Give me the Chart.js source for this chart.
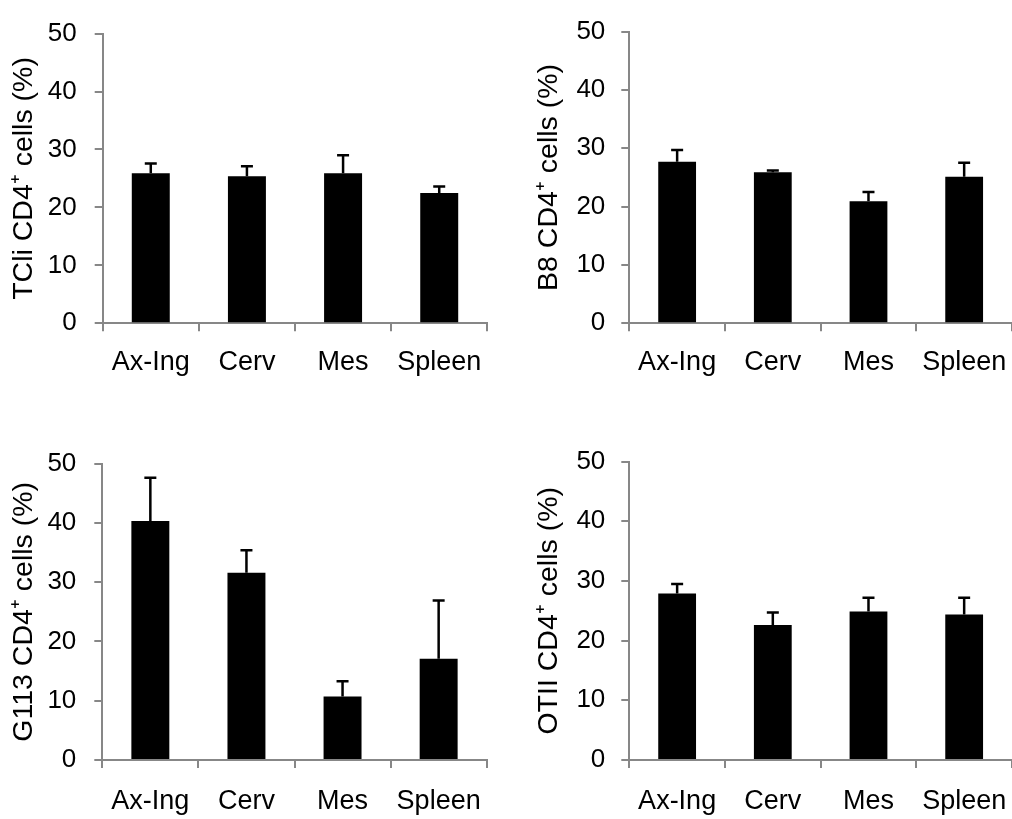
<!DOCTYPE html>
<html>
<head>
<meta charset="utf-8">
<script src="https://cdn.jsdelivr.net/npm/chart.js@4/dist/chart.umd.min.js"></script>
<style>
  html, body { margin: 0; padding: 0; background: #ffffff; }
  body { width: 1012px; height: 819px; position: relative; overflow: hidden; }
  canvas { position: absolute; }
</style>
</head>
<body>
<canvas id="c1" width="506" height="410" style="left:0px;top:0px;width:506px;height:410px"></canvas>
<canvas id="c2" width="506" height="410" style="left:506px;top:0px;width:506px;height:410px"></canvas>
<canvas id="c3" width="506" height="389" style="left:0px;top:430px;width:506px;height:389px"></canvas>
<canvas id="c4" width="506" height="389" style="left:506px;top:430px;width:506px;height:389px"></canvas>
<script>
// ---- Data ----
const categories = ["Ax-Ing", "Cerv", "Mes", "Spleen"];
const yTickValues = [0, 10, 20, 30, 40, 50];

const tcliMeans = [25.9, 25.4, 25.9, 22.5];
const tcliErrors = [1.7, 1.7, 3.1, 1.1];

const b8Means = [27.7, 25.9, 20.9, 25.1];
const b8Errors = [2.0, 0.3, 1.6, 2.4];

const g113Means = [40.3, 31.6, 10.7, 17.1];
const g113Errors = [7.3, 3.8, 2.6, 9.8];

const otiiMeans = [27.9, 22.6, 24.9, 24.4];
const otiiErrors = [1.6, 2.1, 2.3, 2.8];

const titles = ["TCli CD4\u207A cells (%)", "B8 CD4\u207A cells (%)", "G113 CD4\u207A cells (%)", "OTII CD4\u207A cells (%)"];

// ---- Styling / layout ----
const FONT = "'Liberation Sans', Arial, Helvetica, sans-serif";
const AXIS_GRAY = "#878787";

const errorBarPlugin = {
  id: "errorBars",
  afterDatasetsDraw(chart) {
    const ds = chart.data.datasets[0];
    const errs = ds.errors;
    const meta = chart.getDatasetMeta(0);
    const yScale = chart.scales.y;
    const ctx = chart.ctx;
    ctx.save();
    ctx.strokeStyle = "#000000";
    ctx.lineWidth = 2.5;
    meta.data.forEach((bar, i) => {
      const top = yScale.getPixelForValue(ds.data[i] + errs[i]);
      const x = bar.x;
      ctx.beginPath();
      ctx.moveTo(x, bar.y);
      ctx.lineTo(x, top);
      ctx.moveTo(x - 6, top);
      ctx.lineTo(x + 6, top);
      ctx.stroke();
    });
    ctx.restore();
  }
};

function makeChart(id, means, errors, title, geo) {
  const ctx = document.getElementById(id).getContext("2d");
  return new Chart(ctx, {
    type: "bar",
    data: {
      labels: categories,
      datasets: [{
        data: means,
        errors: errors,
        backgroundColor: "#000000",
        borderWidth: 0,
        categoryPercentage: 1.0,
        barPercentage: 0.395
      }]
    },
    options: {
      responsive: false,
      maintainAspectRatio: false,
      animation: false,
      devicePixelRatio: 1,
      layout: { padding: { top: geo.padTop, right: geo.padRight, left: 0, bottom: 0 } },
      plugins: { legend: { display: false }, tooltip: { enabled: false } },
      scales: {
        x: {
          type: "category",
          offset: true,
          grid: { offset: true, drawOnChartArea: false, drawTicks: true, tickLength: 8, color: AXIS_GRAY, lineWidth: 2 },
          border: { display: true, color: AXIS_GRAY, width: 2 },
          ticks: { color: "#000000", padding: geo.xPad, maxRotation: 0, autoSkip: false, font: { family: FONT, size: 27 } },
          afterFit(scale) { scale.height = geo.xHeight; scale.paddingLeft = 0; scale.paddingRight = 0; }
        },
        y: {
          min: 0,
          max: 50,
          afterBuildTicks(scale) { scale.ticks = yTickValues.map(v => ({ value: v })); },
          grid: { drawOnChartArea: false, drawTicks: true, tickLength: 8, color: AXIS_GRAY, lineWidth: 2 },
          border: { display: true, color: AXIS_GRAY, width: 2 },
          ticks: { color: "#000000", padding: geo.yPad, font: { family: FONT, size: 26 } },
          title: { display: true, text: title, color: "#000000", padding: { top: geo.titlePad, bottom: 0 }, font: { family: FONT, size: 28.5, weight: "normal" } },
          afterFit(scale) { scale.width = geo.yWidth; }
        }
      }
    },
    plugins: [errorBarPlugin]
  });
}

makeChart("c1", tcliMeans, tcliErrors, titles[0], { padTop: 19.3, padRight: 18.7, xHeight: 86.7, yWidth: 102.7, xPad: 15, yPad: 18, titlePad: 7 });
makeChart("c2", b8Means, b8Errors, titles[1], { padTop: 19.3, padRight: 0, xHeight: 86.7, yWidth: 123.3, xPad: 15, yPad: 16, titlePad: 26 });
makeChart("c3", g113Means, g113Errors, titles[2], { padTop: 25, padRight: 19.3, xHeight: 59, yWidth: 102.3, xPad: 17, yPad: 18, titlePad: 7 });
makeChart("c4", otiiMeans, otiiErrors, titles[3], { padTop: 25, padRight: 0, xHeight: 59, yWidth: 123.3, xPad: 17, yPad: 16, titlePad: 26 });
</script>
</body>
</html>
